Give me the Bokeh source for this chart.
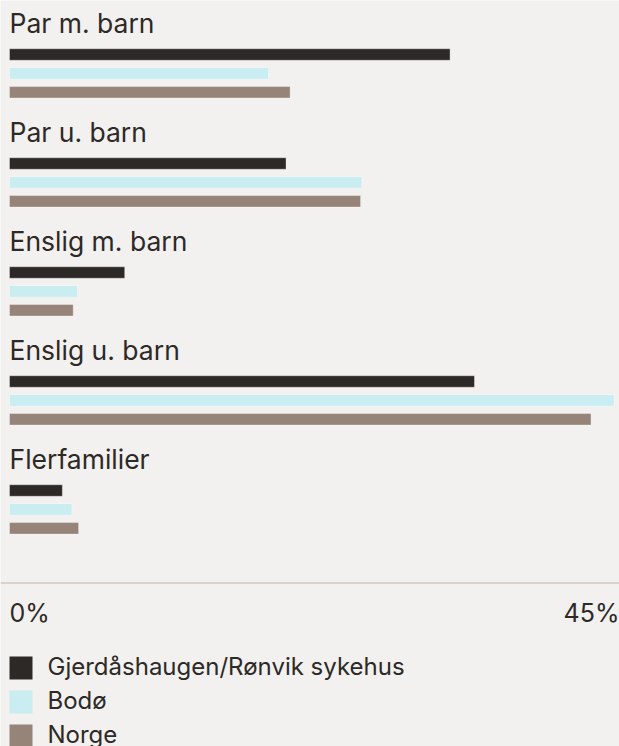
from bokeh.plotting import figure
from bokeh.models import Range1d, ColumnDataSource
from bokeh.core.properties import value
from bokeh.embed import file_html
from bokeh.resources import INLINE

categories = ["Par m. barn", "Par u. barn", "Enslig m. barn", "Enslig u. barn", "Flerfamilier"]
series_names = ["Gjerdåshaugen/Rønvik sykehus", "Bodø", "Norge"]
gjerdashaugen = [32.5, 20.4, 8.5, 34.3, 3.9]
bodo = [19.1, 26.0, 5.0, 44.6, 4.6]
norge = [20.7, 25.9, 4.7, 42.9, 5.1]
tick_values = [0, 45]
tick_labels = ["0%", "45%"]

colors = ["#2d2926", "#c9edf0", "#978479"]
BG = "#f2f1ef"
TXT = "#2d2926"
FONT = "Inter"

W, H = 619, 746
X0 = 9.0
GROUP = 109.0
FIRST_BAR = 54.0
BAR_STEP = 18.9
BAR_H = 11.5
LABEL_Y = 22.7
AXIS_Y = 582.5

scale = (W - X0) / tick_values[1]
p = figure(width=W, height=H, output_backend="svg", toolbar_location=None,
           x_range=Range1d(-X0 / scale, tick_values[1]), y_range=Range1d(H, 0),
           min_border=0, background_fill_color=BG, border_fill_color=BG,
           outline_line_color=None)
p.extra_x_ranges = {"px": Range1d(0, W)}
p.axis.visible = False
p.grid.visible = False

all_series = [gjerdashaugen, bodo, norge]
for s, (vals, col) in enumerate(zip(all_series, colors)):
    ys = [FIRST_BAR + i * GROUP + s * BAR_STEP for i in range(len(categories))]
    src = ColumnDataSource(dict(y=ys, right=vals))
    p.hbar(y="y", left=0, right="right", height=BAR_H, source=src,
           fill_color=col, line_color="white", line_alpha=0.35, line_width=1)

# category labels
lab_src = ColumnDataSource(dict(x=[9] * len(categories),
                                y=[LABEL_Y + i * GROUP for i in range(len(categories))],
                                t=categories))
p.text(x="x", y="y", text="t", source=lab_src, x_range_name="px",
       text_font=value(FONT), text_font_size="26.5px", text_color=TXT,
       text_baseline="alphabetic", text_align="left")

# axis line
p.segment(x0=0, x1=W, y0=AXIS_Y, y1=AXIS_Y, x_range_name="px",
          line_color="#c2b4a8", line_width=1.2)

# tick labels
p.text(x=[tick_values[0]], y=[612.5], text=[tick_labels[0]],
       text_font=value(FONT), text_font_size="25px", text_color=TXT,
       text_baseline="alphabetic", text_align="left")
p.text(x=[tick_values[1]], y=[612.5], text=[tick_labels[1]],
       text_font=value(FONT), text_font_size="25px", text_color=TXT,
       text_baseline="alphabetic", text_align="right")

# legend
LEG_Y0 = 667.5
LEG_STEP = 34
leg_y = [LEG_Y0 + i * LEG_STEP for i in range(len(series_names))]
p.rect(x=[20.5] * 3, y=leg_y, width=23, height=23, x_range_name="px",
       fill_color=colors, line_color=None)
p.text(x=[47] * 3, y=[v - 1.5 for v in leg_y], text=series_names, x_range_name="px",
       text_font=value(FONT), text_font_size="24px", text_color=TXT,
       text_baseline="alphabetic", text_align="left")

open("out.html", "w").write(file_html(p, INLINE))
